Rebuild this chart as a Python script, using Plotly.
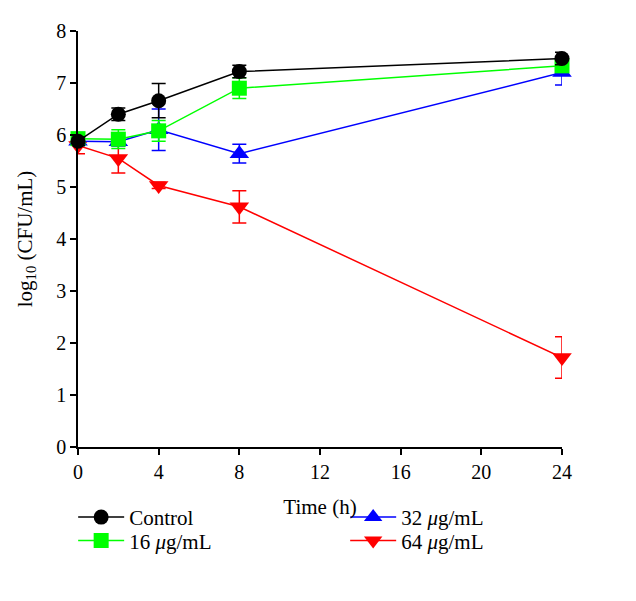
import plotly.graph_objects as go

time = [0, 2, 4, 8, 24]
control = [5.88, 6.40, 6.66, 7.22, 7.47]
control_err = [0.08, 0.12, 0.33, 0.12, 0.12]
c16 = [5.93, 5.92, 6.08, 6.90, 7.33]
c16_err = [0.10, 0.18, 0.20, 0.20, 0.08]
c32 = [5.88, 5.87, 6.10, 5.64, 7.20]
c32_err = [0.08, 0.08, 0.40, 0.18, 0.24]
c64 = [5.80, 5.55, 5.03, 4.62, 1.72]
c64_err = [0.16, 0.28, 0.06, 0.31, 0.40]

x_ticks = [0, 4, 8, 12, 16, 20, 24]
y_ticks = [0, 1, 2, 3, 4, 5, 6, 7, 8]

FONT = "Liberation Serif"

def trace(name, y, err, color, symbol, size, legend):
    return go.Scatter(
        x=time, y=y, name=name, mode="lines+markers",
        line=dict(color=color, width=1.5),
        marker=dict(color=color, symbol=symbol, size=size),
        error_y=dict(type="data", array=err, color=color, thickness=1.5, width=7),
        legend=legend, cliponaxis=False, showlegend=True,
    )

fig = go.Figure()
fig.add_trace(trace("64 <i>μ</i>g/mL", c64, c64_err, "#ff0000", "triangle-down", 17, "legend4"))
fig.add_trace(trace("32 <i>μ</i>g/mL", c32, c32_err, "#0000ff", "triangle-up", 17, "legend3"))
fig.add_trace(trace("16 <i>μ</i>g/mL", c16, c16_err, "#00ff00", "square", 15, "legend2"))
fig.add_trace(trace("Control", control, control_err, "#000000", "circle", 15, "legend"))

axis_common = dict(
    showline=True, linecolor="black", linewidth=1.5, ticks="outside",
    ticklen=6, tickwidth=1.5, tickcolor="black", showgrid=False, zeroline=False,
    tickfont=dict(family=FONT, size=20, color="black"),
)

def leg(x, y):
    return dict(x=x, y=y, xanchor="left", yanchor="middle", itemwidth=46,
                bgcolor="rgba(0,0,0,0)", font=dict(family=FONT, size=21))

ROW1, ROW2 = -0.1694, -0.2259
fig.update_layout(
    width=620, height=585,
    margin=dict(l=70, r=66, t=14, b=146),
    paper_bgcolor="white", plot_bgcolor="white",
    showlegend=True,
    font=dict(family=FONT, size=21, color="black"),
    xaxis=dict(range=[0, 24], tickvals=x_ticks,
               title=dict(text="Time (h)", font=dict(family=FONT, size=21), standoff=18),
               **axis_common),
    yaxis=dict(range=[0, 8], tickvals=y_ticks,
               title=dict(text="log<sub>10</sub> (CFU/mL)", font=dict(family=FONT, size=21), standoff=18),
               **axis_common),
    legend=leg(-0.01, ROW1),
    legend2=leg(-0.01, ROW2),
    legend3=leg(0.552, ROW1),
    legend4=leg(0.552, ROW2),
)

fig.write_html("out.html")
